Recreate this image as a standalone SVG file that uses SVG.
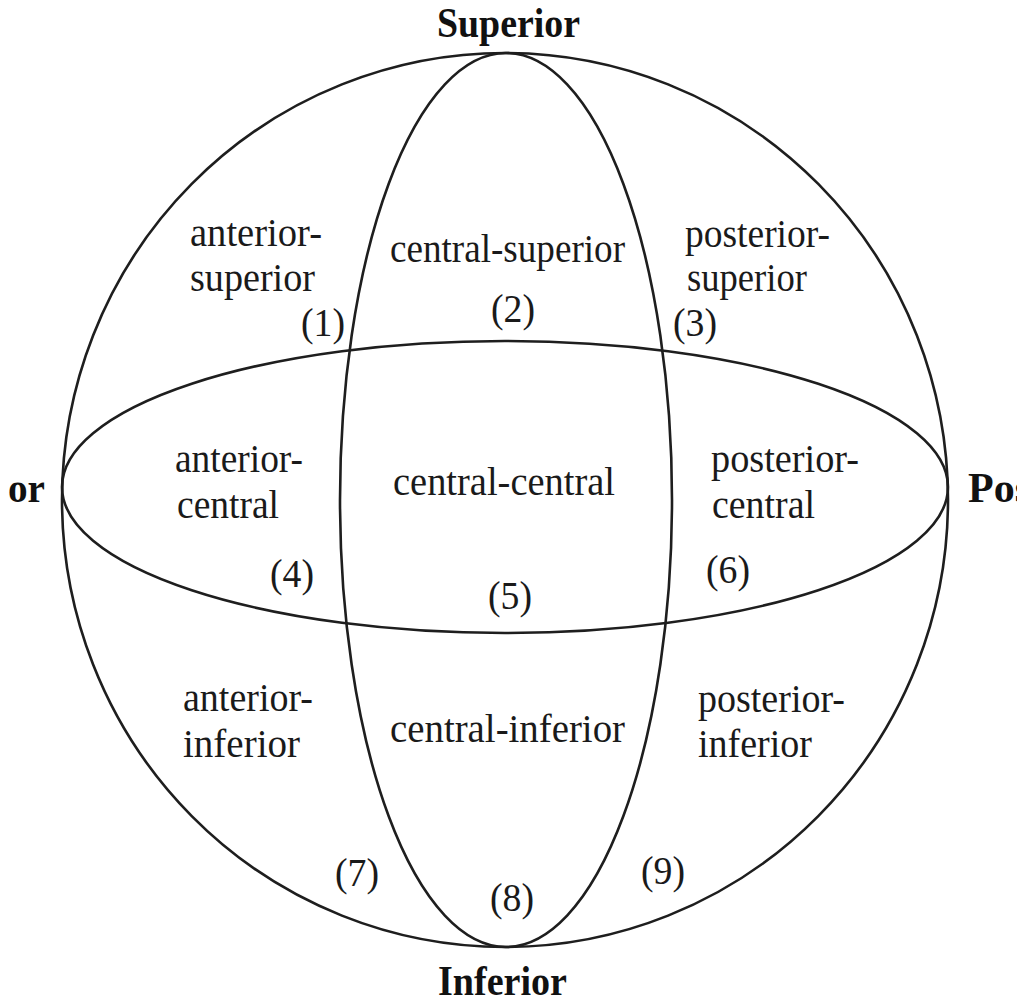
<svg xmlns="http://www.w3.org/2000/svg" width="1017" height="1003" viewBox="0 0 1017 1003">
<style>
.ln{fill:none;stroke:#1e1e1e;stroke-width:2.6}
.t{font-family:"Liberation Serif","Times New Roman",serif;font-size:40px;fill:#1a1a1a}
.b{font-family:"Liberation Serif","Times New Roman",serif;font-size:42px;font-weight:bold;fill:#111}
.c{text-anchor:middle}
</style>
<rect width="1017" height="1003" fill="#ffffff"/>
<g id="outlines">
<ellipse id="sphere" class="ln" cx="505" cy="500" rx="443" ry="447"/>
<ellipse id="vertical-ellipse" class="ln" cx="506" cy="500" rx="166" ry="447"/>
<ellipse id="horizontal-ellipse" class="ln" cx="505" cy="487" rx="443" ry="146"/>
</g>
<g id="axis-labels">
<text class="b" x="437" y="37" textLength="143" lengthAdjust="spacingAndGlyphs">Superior</text>
<text class="b" x="438" y="995" textLength="129" lengthAdjust="spacingAndGlyphs">Inferior</text>
<text class="b" x="8" y="502" textLength="37" lengthAdjust="spacingAndGlyphs">or</text>
<text class="b" x="968" y="502">Pos</text>
</g>
<g id="region-1"><text class="t" x="190" y="246" textLength="132" lengthAdjust="spacingAndGlyphs">anterior-</text><text class="t" x="190" y="291" textLength="125" lengthAdjust="spacingAndGlyphs">superior</text><text class="t" x="301" y="336" textLength="44" lengthAdjust="spacingAndGlyphs">(1)</text></g>
<g id="region-2"><text class="t" x="390" y="262" textLength="235" lengthAdjust="spacingAndGlyphs">central-superior</text><text class="t" x="491" y="322" textLength="44" lengthAdjust="spacingAndGlyphs">(2)</text></g>
<g id="region-3"><text class="t" x="685" y="247" textLength="145" lengthAdjust="spacingAndGlyphs">posterior-</text><text class="t" x="687" y="291" textLength="120" lengthAdjust="spacingAndGlyphs">superior</text><text class="t" x="673" y="336" textLength="44" lengthAdjust="spacingAndGlyphs">(3)</text></g>
<g id="region-4"><text class="t" x="175" y="472" textLength="128" lengthAdjust="spacingAndGlyphs">anterior-</text><text class="t" x="177" y="518" textLength="102" lengthAdjust="spacingAndGlyphs">central</text><text class="t" x="270" y="587" textLength="44" lengthAdjust="spacingAndGlyphs">(4)</text></g>
<g id="region-5"><text class="t" x="393" y="495" textLength="222" lengthAdjust="spacingAndGlyphs">central-central</text><text class="t" x="488" y="609" textLength="44" lengthAdjust="spacingAndGlyphs">(5)</text></g>
<g id="region-6"><text class="t" x="711" y="472" textLength="148" lengthAdjust="spacingAndGlyphs">posterior-</text><text class="t" x="712" y="518" textLength="103" lengthAdjust="spacingAndGlyphs">central</text><text class="t" x="706" y="583" textLength="44" lengthAdjust="spacingAndGlyphs">(6)</text></g>
<g id="region-7"><text class="t" x="183" y="711" textLength="130" lengthAdjust="spacingAndGlyphs">anterior-</text><text class="t" x="183" y="757" textLength="117" lengthAdjust="spacingAndGlyphs">inferior</text><text class="t" x="335" y="886" textLength="44" lengthAdjust="spacingAndGlyphs">(7)</text></g>
<g id="region-8"><text class="t" x="390" y="742" textLength="235" lengthAdjust="spacingAndGlyphs">central-inferior</text><text class="t" x="490" y="911" textLength="44" lengthAdjust="spacingAndGlyphs">(8)</text></g>
<g id="region-9"><text class="t" x="698" y="712" textLength="147" lengthAdjust="spacingAndGlyphs">posterior-</text><text class="t" x="698" y="757" textLength="114" lengthAdjust="spacingAndGlyphs">inferior</text><text class="t" x="641" y="884" textLength="44" lengthAdjust="spacingAndGlyphs">(9)</text></g>
</svg>
